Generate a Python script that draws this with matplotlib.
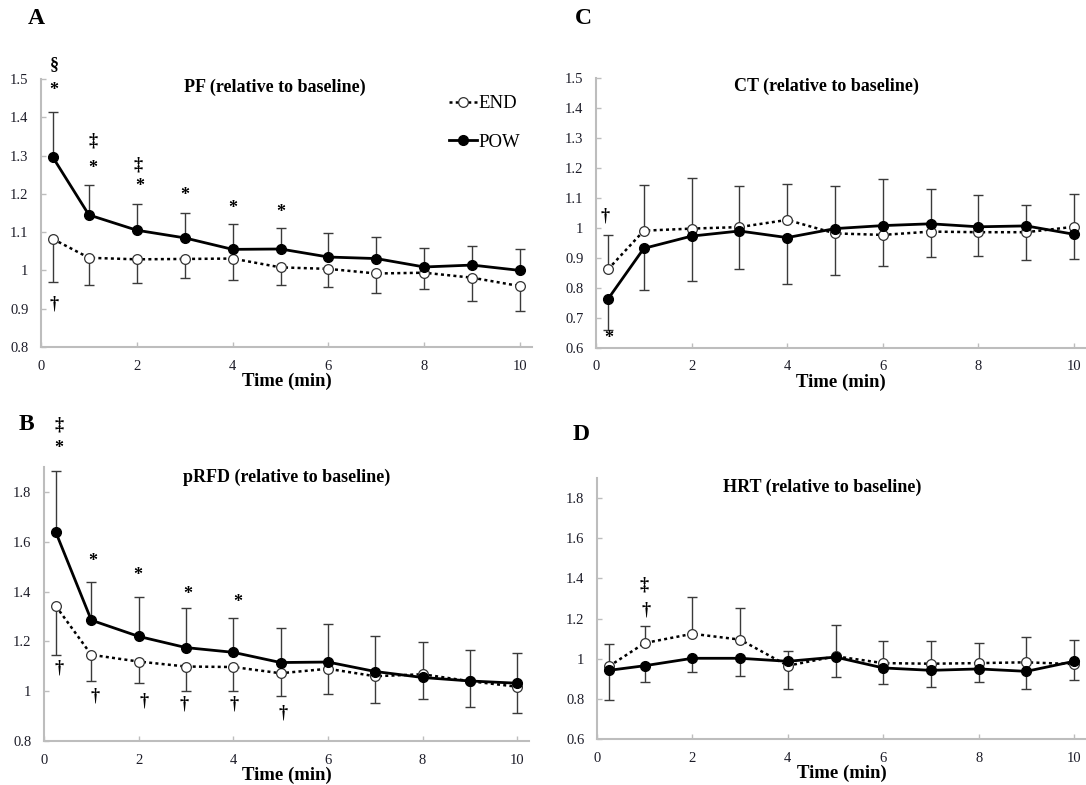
import matplotlib
matplotlib.use("Agg")
import matplotlib.pyplot as plt
from matplotlib.ticker import FuncFormatter

# ---------------- data ----------------
time = [0.25, 1, 2, 3, 4, 5, 6, 7, 8, 9, 10]

# Panel A: PF
pf_end = [1.082, 1.033, 1.029, 1.030, 1.031, 1.008, 1.004, 0.992, 0.994, 0.981, 0.959]
pf_end_err = [0.112, 0.072, 0.061, 0.051, 0.056, 0.047, 0.048, 0.051, 0.042, 0.062, 0.064]
pf_pow = [1.295, 1.145, 1.105, 1.085, 1.055, 1.056, 1.035, 1.031, 1.009, 1.014, 1.000]
pf_pow_err = [0.120, 0.077, 0.068, 0.064, 0.067, 0.056, 0.064, 0.057, 0.050, 0.050, 0.057]

# Panel B: pRFD
rfd_end = [1.342, 1.146, 1.119, 1.099, 1.097, 1.072, 1.090, 1.060, 1.068, 1.040, 1.018]
rfd_end_err = [0.196, 0.107, 0.087, 0.097, 0.095, 0.090, 0.103, 0.106, 0.100, 0.103, 0.107]
rfd_pow = [1.638, 1.285, 1.220, 1.175, 1.156, 1.115, 1.117, 1.079, 1.055, 1.041, 1.032]
rfd_pow_err = [0.244, 0.154, 0.160, 0.160, 0.139, 0.138, 0.152, 0.144, 0.143, 0.123, 0.120]

# Panel C: CT
ct_end = [0.862, 0.991, 0.998, 1.003, 1.027, 0.982, 0.977, 0.988, 0.986, 0.986, 1.004]
ct_end_err = [0.115, 0.153, 0.168, 0.138, 0.120, 0.157, 0.187, 0.141, 0.125, 0.092, 0.110]
ct_pow = [0.763, 0.932, 0.973, 0.990, 0.968, 0.998, 1.008, 1.014, 1.004, 1.007, 0.979]
ct_pow_err = [0.102, 0.139, 0.150, 0.125, 0.155, 0.155, 0.134, 0.112, 0.096, 0.115, 0.081]

# Panel D: HRT
hrt_end = [0.962, 1.078, 1.124, 1.095, 0.965, 1.012, 0.978, 0.975, 0.978, 0.982, 0.973]
hrt_end_err = [0.113, 0.083, 0.183, 0.157, 0.075, 0.154, 0.108, 0.111, 0.100, 0.124, 0.118]
hrt_pow = [0.942, 0.965, 1.002, 1.002, 0.987, 1.008, 0.954, 0.942, 0.949, 0.937, 0.987]
hrt_pow_err = [0.146, 0.083, 0.068, 0.090, 0.136, 0.099, 0.082, 0.085, 0.065, 0.086, 0.092]

# significance symbols: (x, y, symbol)
pf_marks = [(0.27, 1.538, "§"), (0.27, 1.47, "*"), (1.08, 1.337, "‡"), (1.08, 1.267, "*"),
            (2.03, 1.276, "‡"), (2.07, 1.219, "*"), (3.0, 1.195, "*"), (4.0, 1.162, "*"),
            (5.0, 1.151, "*"), (0.27, 0.912, "†")]
rfd_marks = [(0.31, 2.067, "‡"), (0.31, 1.975, "*"), (1.04, 1.521, "*"), (1.99, 1.463, "*"),
             (3.04, 1.39, "*"), (4.09, 1.355, "*"), (0.32, 1.094, "†"), (1.07, 0.982, "†"),
             (2.12, 0.962, "†"), (2.97, 0.948, "†"), (4.01, 0.948, "†"), (5.05, 0.911, "†")]
ct_marks = [(0.18, 1.04, "†"), (0.27, 0.631, "*")]
hrt_marks = [(0.99, 1.368, "‡"), (1.02, 1.244, "†")]

xticks = [0, 2, 4, 6, 8, 10]

# ---------------- figure ----------------
W, H = 1086, 785
fig = plt.figure(figsize=(W / 100, H / 100), dpi=100)
SERIF = ["Liberation Serif", "DejaVu Serif"]
plt.rcParams["font.family"] = SERIF

SPINE = "#bdbdbd"
TXT = "#1c1c28"


def px_axes(l, r, t, b):
    return fig.add_axes([l / W, 1 - b / H, (r - l) / W, (b - t) / H])


def panel(ax, end, end_err, pow_, pow_err, end_up, ylim, yticks, title, tx, ty, marks):
    end_yerr = [[0] * len(end), end_err] if end_up else [end_err, [0] * len(end)]
    pow_yerr = [pow_err, [0] * len(pow_)] if end_up else [[0] * len(pow_), pow_err]
    ax.errorbar(time, end, yerr=end_yerr, fmt="none", ecolor="#3a3a3a", elinewidth=1.0,
                capsize=3.5, capthick=1.0, zorder=2)
    ax.errorbar(time, pow_, yerr=pow_yerr, fmt="none", ecolor="#3a3a3a", elinewidth=1.0,
                capsize=3.5, capthick=1.0, zorder=2)
    ax.plot(time, end, linestyle=(0, (1.2, 1.3)), color="black", lw=1.8, marker="o",
            markersize=7, markerfacecolor="white", markeredgecolor="#333333",
            markeredgewidth=0.9, label="END", zorder=3)
    ax.plot(time, pow_, linestyle="-", color="black", lw=2.0, marker="o", markersize=7,
            markerfacecolor="black", markeredgecolor="black", label="POW", zorder=4)
    ax.set_xlim(0, 10.25)
    ax.set_ylim(*ylim)
    ax.set_xticks(xticks)
    ax.set_yticks(yticks)
    ax.yaxis.set_major_formatter(FuncFormatter(lambda v, p: f"{v:g}"))
    for s in ["top", "right"]:
        ax.spines[s].set_visible(False)
    for s in ["left", "bottom"]:
        ax.spines[s].set_color(SPINE)
        ax.spines[s].set_linewidth(1.5)
    ax.tick_params(direction="in", length=3.5, width=1.0, color=SPINE, labelsize=10.5,
                   labelcolor=TXT)
    ax.tick_params(axis="x", pad=9)
    ax.tick_params(axis="y", pad=9)
    ax.set_xlabel("Time (min)", fontsize=13.5, fontweight="bold", labelpad=0, color="black")
    ax.text(tx, ty, title, transform=ax.transAxes, ha="center", va="center",
            fontsize=13, fontweight="bold", color="black")
    for (mx, my, sym) in marks:
        ax.text(mx, my, sym, ha="center", va="center", fontsize=13, fontweight="bold",
                color="black", clip_on=False)


axA = px_axes(41, 532, 79, 347)
panel(axA, pf_end, pf_end_err, pf_pow, pf_pow_err, False, (0.8, 1.5),
      [0.8, 0.9, 1.0, 1.1, 1.2, 1.3, 1.4, 1.5], "PF (relative to baseline)", 0.477, 0.97, pf_marks)
leg = axA.legend(loc="upper left", bbox_to_anchor=(0.83, 0.94), frameon=False, fontsize=13.5,
                 handlelength=1.5, handletextpad=0.12, labelspacing=1.15, borderpad=0,
                 borderaxespad=0)

axC = px_axes(596, 1086, 78, 348)
panel(axC, ct_end, ct_end_err, ct_pow, ct_pow_err, True, (0.6, 1.5),
      [0.6, 0.7, 0.8, 0.9, 1.0, 1.1, 1.2, 1.3, 1.4, 1.5], "CT (relative to baseline)", 0.47, 0.97,
      ct_marks)

axB = px_axes(44, 529, 467, 741)
panel(axB, rfd_end, rfd_end_err, rfd_pow, rfd_pow_err, False, (0.8, 1.9),
      [0.8, 1.0, 1.2, 1.4, 1.6, 1.8], "pRFD (relative to baseline)", 0.50, 0.964, rfd_marks)

axD = px_axes(597, 1086, 478, 739)
panel(axD, hrt_end, hrt_end_err, hrt_pow, hrt_pow_err, True, (0.6, 1.9),
      [0.6, 0.8, 1.0, 1.2, 1.4, 1.6, 1.8], "HRT (relative to baseline)", 0.46, 0.966, hrt_marks)

for lab, x, y in [("A", 36, 18), ("C", 583, 18), ("B", 26, 424), ("D", 581, 435)]:
    fig.text(x / W, 1 - y / H, lab, ha="center", va="center", fontsize=17, fontweight="bold")

fig.savefig("out.png", dpi=100)
